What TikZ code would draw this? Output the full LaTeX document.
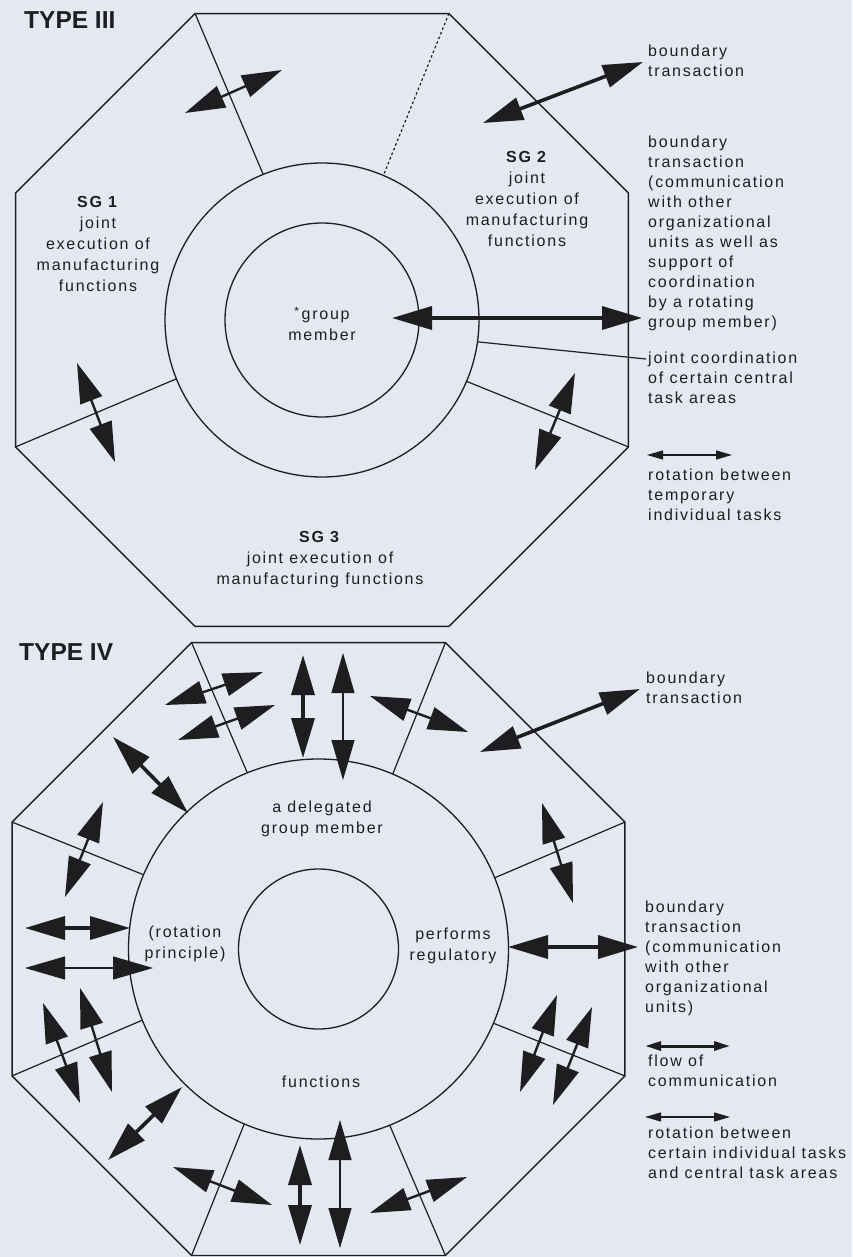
\documentclass[tikz,border=0pt]{standalone}
\usepackage{fontspec}
\setmainfont{Liberation Sans}[LetterSpace=11]
\newfontfamily\titlefont{Liberation Sans}
\usetikzlibrary{arrows.meta,calc}
\definecolor{paper}{RGB}{228,232,241}
\definecolor{ink}{RGB}{30,30,32}

\begin{document}
\begin{tikzpicture}[x=1pt,y=-1pt,
  rim/.style={draw=ink, line width=1.4pt, line join=miter},
  ring/.style={draw=ink, line width=1.3pt, circle, inner sep=0pt, outer sep=0pt},
  divider/.style={draw=ink, line width=1.2pt},
  twoway/.style={draw=ink, {Triangle[length=40pt,width=23pt]}-{Triangle[length=40pt,width=23pt]}},
  keyarrow/.style={draw=ink, {Triangle[length=16pt,width=9pt]}-{Triangle[length=16pt,width=9pt]}},
  wthick/.style={line width=3.6pt},
  wmed/.style={line width=2.4pt},
  wthin/.style={line width=1.2pt},
  legend/.style={font=\fontsize{16}{20}\selectfont, align=left, anchor=north west, inner sep=0pt, text=ink},
  sglabel/.style={font=\fontsize{16}{21}\selectfont, align=center, inner sep=0pt, text=ink},
  heading/.style={font=\titlefont\bfseries\fontsize{24.5}{28}\selectfont, anchor=base west, inner sep=0pt, text=ink},
]

\fill[paper] (0,0) rectangle (852,1257);
\useasboundingbox (0,0) rectangle (852,1257);

% ---------------- TYPE III ----------------
\node[heading] (IIItitle) at (24,29) {TYPE III};

\coordinate (cIII) at (322,320);
\foreach \k in {0,...,7}
  \coordinate (IIIv\k) at ($(cIII)+(22.5+45*\k:331.7pt)$);
\draw[rim] (IIIv0) -- (IIIv1) -- (IIIv2) -- (IIIv3) -- (IIIv4) -- (IIIv5) -- (IIIv6) -- (IIIv7) -- cycle;

\node[ring, minimum size=314pt] (IIIouter) at (cIII) {};
\node[ring, minimum size=194pt] (IIIinner) at (cIII) {};

% borders between the semi-autonomous groups
\draw[divider] (IIIv2) -- (IIIouter.112.5);
\draw[divider, dash pattern=on 2.5pt off 2.5pt] (IIIv1) -- (IIIouter.67.5);
\draw[divider] (IIIv4) -- (IIIouter.202.5);
\draw[divider] (IIIv7) -- (IIIouter.337.5);

% group labels
\node[sglabel] (sg1) at (98,244) {\textbf{SG 1}\\joint\\execution of\\manufacturing\\functions};
\node[sglabel] (sg2) at (527,199) {\textbf{SG 2}\\joint\\execution of\\manufacturing\\functions};
\node[sglabel] (sg3) at (320,560) {\textbf{SG 3}\\joint execution of\\manufacturing functions};
\node[sglabel] (gm) at (322,324) {{\fontsize{12}{12}\selectfont\raisebox{0.3em}{*}}\,group\\member};

% arrows
\foreach \n/\ax/\ay/\bx/\by/\w in {
   a/185/113/282/70/wmed,
   bt/483/123/643/62/wthick,
   hz/392/318/642/318/wthick,
   d/77/363/115/462/wmed,
   e/575/373/535/470/wmed}
{
  \coordinate (III\n s) at (\ax,\ay);
  \coordinate (III\n e) at (\bx,\by);
  \draw[twoway,\w] (III\n s) -- (III\n e);
}

% legend
\node[legend] (IIIbt) at (648,45) {boundary\\transaction};
\node[legend] (IIIbt2) at (648,136) {boundary\\transaction\\(communication\\with other\\organizational\\units as well as\\support of\\coordination\\by a rotating\\group member)};
\node[legend] (IIIjc) at (648,352) {joint coordination\\of certain central\\task areas};
\coordinate (IIIleadend) at (646,359);
\draw[divider] (IIIouter.-8) -- (IIIleadend);
\coordinate (IIIkeys) at (647,455);
\coordinate (IIIkeye) at (732,455);
\draw[keyarrow, wthin] (IIIkeys) -- (IIIkeye);
\node[legend] (IIIrot) at (648,469) {rotation between\\temporary\\individual tasks};

% ---------------- TYPE IV ----------------
\node[heading] (IVtitle) at (19,660) {TYPE IV};

\coordinate (cIV) at (318.5,949);
\foreach \k in {0,...,7}
  \coordinate (IVv\k) at ($(cIV)+(22.5+45*\k:331.7pt)$);
\draw[rim] (IVv0) -- (IVv1) -- (IVv2) -- (IVv3) -- (IVv4) -- (IVv5) -- (IVv6) -- (IVv7) -- cycle;

\node[ring, minimum size=380pt] (IVouter) at (cIV) {};
\node[ring, minimum size=160pt] (IVinner) at (cIV) {};

\foreach \k [evaluate=\k as \a using 22.5+45*\k] in {0,...,7}
  \draw[divider] (IVv\k) -- (IVouter.\a);

\node[sglabel] (deleg) at (322,819) {a delegated\\group member};
\node[sglabel] (rotp) at (185,944) {(rotation\\principle)};
\node[sglabel] (perf) at (453,946) {performs\\regulatory};
\node[sglabel] (func) at (321,1082) {functions};

\foreach \n/\ax/\ay/\bx/\by/\w in {
   a/165/705/263/672/wmed,
   b/178/740/275/705/wmed,
   c/303/655/303/758/wthick,
   d/343/653/343/780/wthin,
   e/113/737/188/813/wthick,
   f/103/802/65/897/wmed,
   g/370/696/468/732/wmed,
   h/480/752/640/689/wthick,
   i/542/803/573/903/wmed,
   j/25/928/130/928/wthick,
   k/25/968/153/968/wthin,
   l/43/1003/80/1103/wmed,
   m/80/988/112/1092/wmed,
   n/182/1087/108/1160/wthick,
   o/173/1167/272/1205/wmed,
   p/300/1145/300/1245/wthick,
   q/340/1120/340/1248/wthin,
   r/508/947/638/947/wthick,
   s/557/995/520/1092/wmed,
   t/592/1007/553/1105/wmed,
   u/467/1177/370/1213/wmed}
{
  \coordinate (IV\n s) at (\ax,\ay);
  \coordinate (IV\n e) at (\bx,\by);
  \draw[twoway,\w] (IV\n s) -- (IV\n e);
}

% legend
\node[legend] (IVbt) at (646,672) {boundary\\transaction};
\node[legend] (IVbt2) at (645,901) {boundary\\transaction\\(communication\\with other\\organizational\\units)};
\coordinate (IVflows) at (645,1046);
\coordinate (IVflowe) at (730,1046);
\draw[keyarrow, line width=3pt] (IVflows) -- (IVflowe);
\node[legend] (IVflow) at (648,1055) {flow of\\communication};
\coordinate (IVkeys) at (645,1117);
\coordinate (IVkeye) at (730,1117);
\draw[keyarrow, wthin] (IVkeys) -- (IVkeye);
\node[legend] (IVrot) at (648,1127) {rotation between\\certain individual tasks\\and central task areas};

\end{tikzpicture}
\end{document}
